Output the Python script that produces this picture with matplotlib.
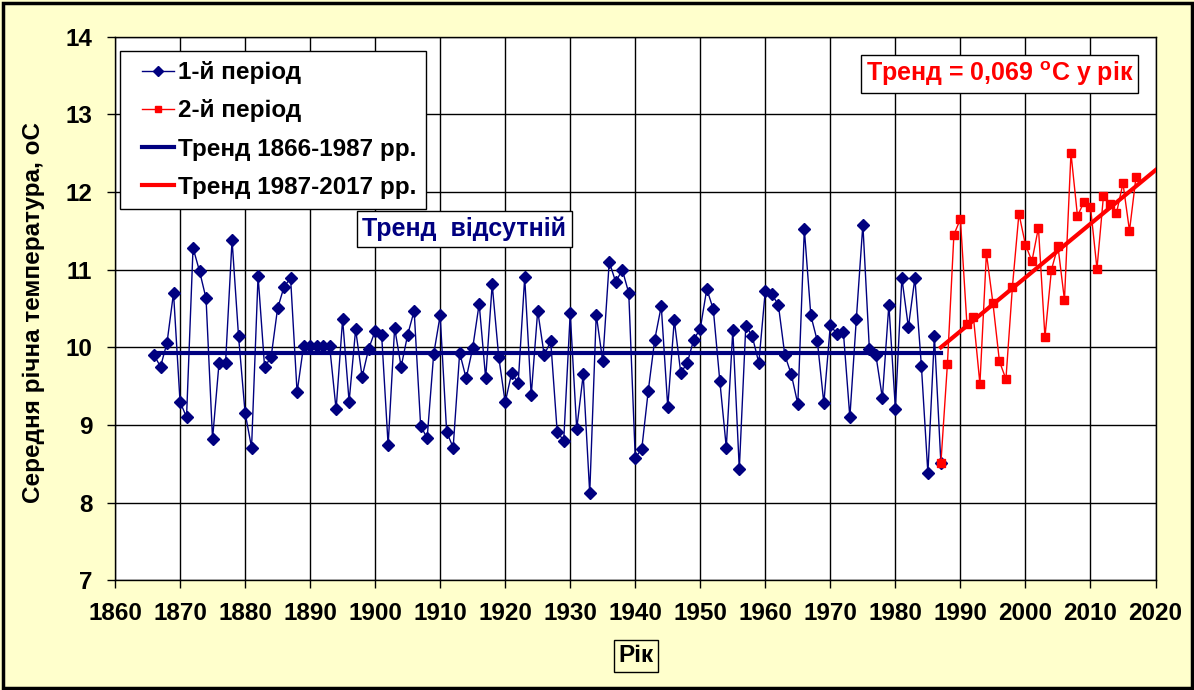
import numpy as np
import matplotlib
matplotlib.use("Agg")
import matplotlib.pyplot as plt
from matplotlib.patches import Rectangle
from matplotlib.lines import Line2D
from matplotlib.legend_handler import HandlerLine2D

plt.rcParams['font.family'] = ['Liberation Sans', 'DejaVu Sans']
plt.rcParams['font.weight'] = 'bold'
plt.rcParams['mathtext.fontset'] = 'custom'
plt.rcParams['mathtext.rm'] = 'Liberation Sans:bold'
plt.rcParams['mathtext.bf'] = 'Liberation Sans:bold'

# ---------------- data ----------------
years1 = list(range(1866, 1988))
temps1 = [9.90, 9.75, 10.06, 10.70, 9.30, 9.10, 11.28, 10.98, 10.63, 8.82,
          9.80, 9.80, 11.38, 10.14, 9.16, 8.71, 10.92, 9.75, 9.87, 10.50,
          10.78, 10.89, 9.42, 10.02, 10.02, 10.02, 10.02, 10.02, 9.20, 10.36,
          9.30, 10.23, 9.62, 9.98, 10.21, 10.16, 8.74, 10.25, 9.75, 10.16,
          10.47, 8.99, 8.83, 9.91, 10.41, 8.91, 8.71, 9.93, 9.60, 9.99,
          10.56, 9.60, 10.81, 9.88, 9.29, 9.67, 9.54, 10.90, 9.38, 10.47,
          9.90, 10.08, 8.91, 8.80, 10.44, 8.95, 9.65, 8.12, 10.42, 9.82,
          11.10, 10.84, 11.00, 10.70, 8.58, 8.69, 9.44, 10.10, 10.53, 9.23,
          10.35, 9.67, 9.80, 10.10, 10.24, 10.75, 10.49, 9.57, 8.71, 10.22,
          8.43, 10.28, 10.14, 9.80, 10.73, 10.68, 10.55, 9.90, 9.65, 9.27,
          11.52, 10.41, 10.08, 9.28, 10.29, 10.17, 10.20, 9.10, 10.37, 11.58,
          9.98, 9.90, 9.35, 10.55, 9.21, 10.89, 10.26, 10.89, 9.76, 8.38,
          10.15, 8.51]

years2 = list(range(1987, 2018))
temps2 = [8.51, 9.78, 11.45, 11.65, 10.30, 10.39, 9.53, 11.21, 10.57, 9.82,
          9.59, 10.78, 11.72, 11.32, 11.11, 11.54, 10.13, 11.00, 11.30, 10.61,
          12.50, 11.69, 11.87, 11.81, 11.01, 11.95, 11.84, 11.73, 12.11, 11.50,
          12.19]

trend1_x = [1866, 1987]
trend1_y = [9.925, 9.925]
trend2_x = [1987, 2020]
trend2_y = [10.0, 12.28]

xticks = list(range(1860, 2021, 10))
yticks = list(range(7, 15))

legend_labels = ['1-й період', '2-й період', 'Тренд 1866-1987 рр.', 'Тренд 1987-2017 рр.']
ylabel = 'Середня річна температура, оС'
xlabel = 'Рік'
note_blue = 'Тренд  відсутній'
note_red = r'Тренд = 0,069 $^{\rm o}$C у рік'

NAVY = '#000080'
RED = '#FF0000'
BG = '#FFFFCC'

# ---------------- figure ----------------
W, H = 1194, 690
fig = plt.figure(figsize=(W / 100, H / 100), dpi=100, facecolor=BG)
fig.patches.append(Rectangle((2.5 / W, 2.5 / H), 1 - 5 / W, 1 - 5 / H,
                             transform=fig.transFigure, fill=False,
                             edgecolor='black', linewidth=2.5, zorder=10))

left, right, top, bottom = 115, 1155.5, 36.5, 580.4
ax = fig.add_axes([left / W, 1 - bottom / H, (right - left) / W, (bottom - top) / H])
ax.set_facecolor('white')

ax.plot(years1, temps1, color=NAVY, lw=1.0, marker='D', ms=6.5,
        markerfacecolor=NAVY, markeredgecolor=NAVY, zorder=3)
ax.plot(years2, temps2, color=RED, lw=1.0, marker='s', ms=5.5,
        markerfacecolor=RED, markeredgecolor=RED, zorder=4)
ax.plot(trend1_x, trend1_y, color=NAVY, lw=3, zorder=2.5)
ax.plot(trend2_x, trend2_y, color=RED, lw=3, zorder=3.5)

ax.set_xlim(1860, 2020)
ax.set_ylim(7, 14)
ax.set_xticks(xticks)
ax.set_yticks(yticks)
ax.grid(True, color='black', lw=1.0)
ax.set_axisbelow(True)
for s in ax.spines.values():
    s.set_color('black')
    s.set_linewidth(1.0)
ax.tick_params(direction='out', length=5.8, width=1, color='black',
               labelsize=17.5)
ax.tick_params(axis='y', pad=10.5)
ax.tick_params(axis='x', pad=9.5)
for lab in ax.get_xticklabels() + ax.get_yticklabels():
    lab.set_fontweight('bold')

h1 = Line2D([], [], color=NAVY, lw=1, marker='D', ms=5.5, markerfacecolor=NAVY)
h2 = Line2D([], [], color=RED, lw=1, marker='s', ms=5, markerfacecolor=RED)
h3 = Line2D([], [], color=NAVY, lw=3)
h4 = Line2D([], [], color=RED, lw=3)
hmap = {h: HandlerLine2D(xpad=0.5) for h in (h1, h2, h3, h4)}
leg = ax.legend([h1, h2, h3, h4], legend_labels, loc='upper left',
                bbox_to_anchor=(0.0048, 0.973), borderaxespad=0,
                prop={'size': 17.5, 'weight': 'bold'}, frameon=True,
                fancybox=False, edgecolor='black', framealpha=1,
                handlelength=1.8, handletextpad=0.15, labelspacing=0.62,
                borderpad=0.42, handler_map=hmap)
leg.get_frame().set_linewidth(1.0)
leg.set_zorder(6)

ax.text((464 - left) / (right - left), (bottom - 229) / (bottom - top), note_blue,
        transform=ax.transAxes, ha='center', va='center',
        color=NAVY, fontsize=18, fontweight='bold', zorder=6,
        bbox=dict(boxstyle='square,pad=0.22', facecolor='white', edgecolor='black', lw=1))
ax.text((999.5 - left) / (right - left), (bottom - 74) / (bottom - top), note_red,
        transform=ax.transAxes, ha='center', va='center',
        color=RED, fontsize=18, fontweight='bold', zorder=6,
        bbox=dict(boxstyle='square,pad=0.18', facecolor='white', edgecolor='black', lw=1))

fig.text(34 / W, 1 - 312 / H, ylabel, rotation=90, ha='center', va='center',
         fontsize=17.5, fontweight='bold', color='black')
fig.text(636 / W, 1 - 656 / H, xlabel, ha='center', va='center',
         fontsize=17.5, fontweight='bold', color='black',
         bbox=dict(boxstyle='square,pad=0.2', facecolor=BG, edgecolor='black', lw=1))

fig.savefig('out.png', dpi=100, facecolor=BG)
